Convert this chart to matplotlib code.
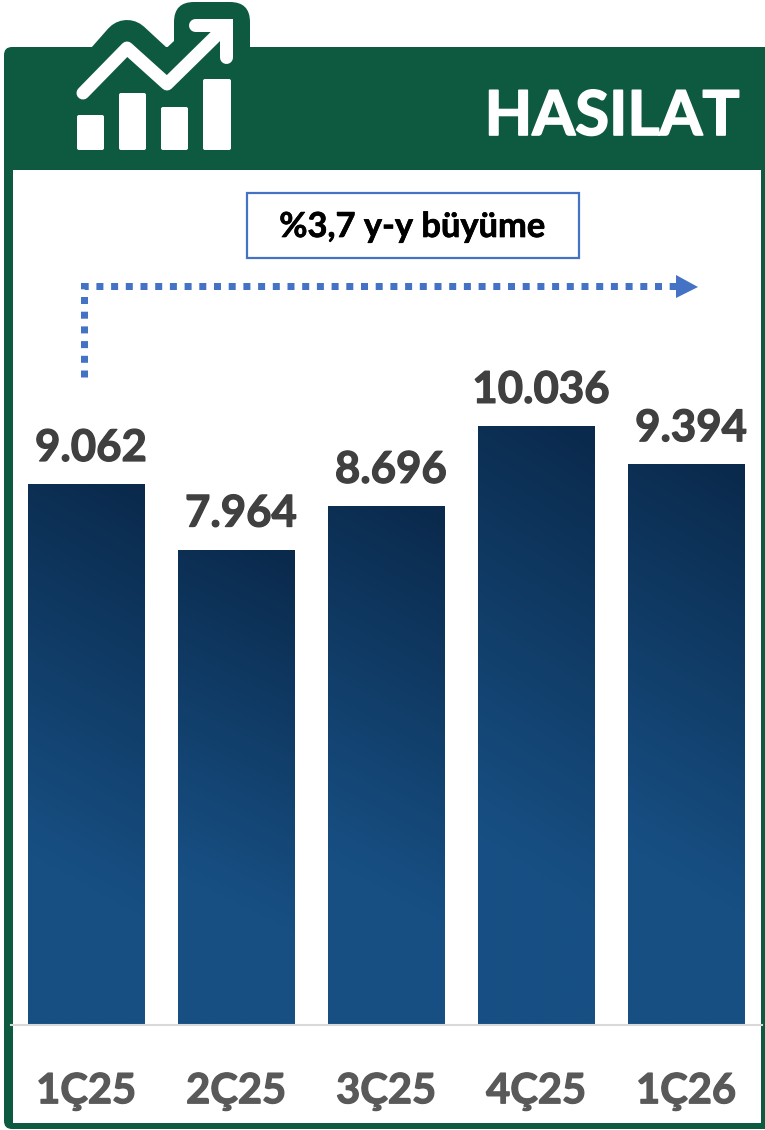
import numpy as np
import matplotlib
matplotlib.use("Agg")
import matplotlib.pyplot as plt
import matplotlib.patheffects as pe
from matplotlib.patches import Rectangle, FancyBboxPatch, Polygon

plt.rcParams['font.family'] = ['Lato', 'DejaVu Sans']

# Veri
quarters = ["1Ç25", "2Ç25", "3Ç25", "4Ç25", "1Ç26"]
revenue = [9062, 7964, 8696, 10036, 9394]
value_labels = ["9.062", "7.964", "8.696", "10.036", "9.394"]
title = "HASILAT"
growth_note = "%3,7 y-y büyüme"

W, H = 765, 1130
GREEN = "#0e5a41"
BLUE = "#4472c4"
px = 72 / 100   # 1 piksel = 0.72 pt


# Kalin yazi biraz daha dolgun gorunsun
def thick(color, w=0.9):
    return [pe.withStroke(linewidth=w, foreground=color)]


fig = plt.figure(figsize=(W / 100, H / 100), dpi=100)

# Arka plan katmani: piksel koordinatlari (y asagi)
bg = fig.add_axes([0, 0, 1, 1], zorder=0)
bg.set_xlim(0, W)
bg.set_ylim(H, 0)
bg.axis("off")

# Cerceve
bg.add_patch(FancyBboxPatch((9, 52), W + 20, 1072, boxstyle="round,pad=5,rounding_size=8",
                            fc=GREEN, ec="none"))
bg.add_patch(Rectangle((13, 170), 748, 953, fc="white", ec="none"))

# Ikon zemini
bg.add_patch(FancyBboxPatch((72, 60), 165, 100, boxstyle="round,pad=10,rounding_size=14",
                            fc=GREEN, ec="none"))
bg.add_patch(FancyBboxPatch((188, 16), 48, 50, boxstyle="round,pad=14,rounding_size=20",
                            fc=GREEN, ec="none"))
bg.plot([83, 127, 167, 222], [95, 45, 82, 30], color=GREEN, lw=50 * px,
        solid_capstyle="round", solid_joinstyle="round", zorder=1)

# Ikon: cubuklar ve ok
for x0, y0, x1 in [(77, 115, 104), (119, 93, 146), (161, 107, 188), (203, 79, 231)]:
    bg.add_patch(FancyBboxPatch((x0 + 1, y0 + 1), x1 - x0 - 2, 150 - y0 - 2,
                                boxstyle="round,pad=1,rounding_size=2", fc="white", ec="none",
                                zorder=2))
bg.plot([83, 127, 167, 222], [93, 48, 84, 30], color="white", lw=13 * px,
        solid_capstyle="round", solid_joinstyle="round", zorder=3)
bg.plot([195, 226, 226], [25, 25, 57], color="white", lw=13 * px,
        solid_capstyle="round", solid_joinstyle="miter", zorder=3)

bg.text(612, 117, title, color="white", fontsize=44.5, fontweight="bold", ha="center", va="center",
        path_effects=thick("white", 1.2), zorder=3)

# Buyume kutusu ve noktali ok
bg.add_patch(Rectangle((247.5, 192.5), 332, 65, fc="white", ec=BLUE, lw=1.6))
bg.text(412.5, 227, growth_note, color="black", fontsize=24.8, fontweight="bold",
        ha="center", va="center", path_effects=thick("black", 0.5))
bg.plot([84, 84, 678], [377, 286, 286], color=BLUE, lw=7 * px,
        linestyle=(0, (1, 1.1)), dash_capstyle="butt", dash_joinstyle="miter")
bg.add_patch(Polygon([(676, 275), (698, 287), (676, 298)], fc=BLUE, ec="none"))

# Cubuk grafik
y_base = 1025
scale = 0.0597   # piksel / deger
ax = fig.add_axes([11 / W, 1 - y_base / H, (762 - 11) / W, (y_base - 300) / H], zorder=1)
ax.patch.set_alpha(0)
ax.set_xlim(-0.5, 4.507)
ax.set_ylim(0, (y_base - 300) / scale)

bars = ax.bar(range(len(quarters)), revenue, width=0.775, color="#174f83")

# Gradyan dolgu
top_col = np.array([0x0a, 0x29, 0x4b]) / 255
bot_col = np.array([0x17, 0x4f, 0x83]) / 255
for b, v in zip(bars, revenue):
    u, t = np.meshgrid(np.linspace(0, 1, 60), np.linspace(0, 1, 200))
    k = np.clip(t * 1.25 + (1 - u) * 0.15, 0, 1)[..., None]
    grad = top_col + (bot_col - top_col) * k
    im = ax.imshow(grad, extent=[b.get_x(), b.get_x() + b.get_width(), 0, v],
                   origin="upper", aspect="auto", zorder=2)
    im.set_clip_path(b)
ax.set_xlim(-0.5, 4.507)
ax.set_ylim(0, (y_base - 300) / scale)

for i, v in enumerate(revenue):
    ax.annotate(value_labels[i], (i, v), xytext=(5 * px, 36 * px), textcoords="offset points",
                ha="center", va="center", color="#404040", fontsize=31.5, fontweight="bold",
                path_effects=thick("#404040"))

for s in ["top", "left", "right"]:
    ax.spines[s].set_visible(False)
ax.spines["bottom"].set_color("#d9d9d9")
ax.spines["bottom"].set_linewidth(1.5)
ax.set_yticks([])
ax.set_xticks(range(len(quarters)))
ax.set_xticklabels(quarters, color="#595959", fontsize=30, fontweight="bold",
                   path_effects=thick("#595959"))
ax.tick_params(axis="x", length=0, pad=34)

fig.savefig("out.png", dpi=100)
